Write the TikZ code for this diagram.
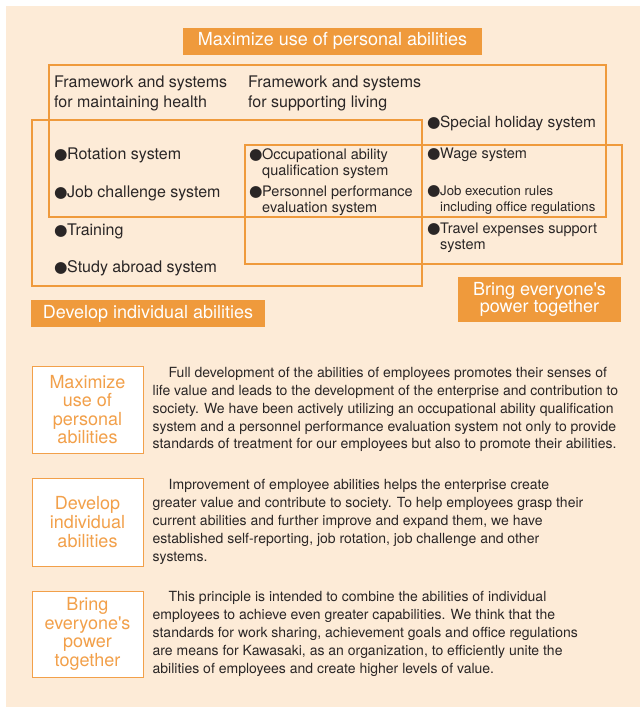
\documentclass[tikz,border=0pt]{standalone}
\usepackage{fontspec}
\setmainfont{TeX Gyre Heros}
\newfontfamily\dotfont{DejaVu Sans}
\usetikzlibrary{positioning}
\definecolor{bgbeige}{HTML}{FDEBD7}
\definecolor{tagorange}{HTML}{EF9A3C}
\definecolor{wordorange}{HTML}{F2A04A}
\definecolor{inkgray}{HTML}{2A2626}
\newcommand{\dotmark}{\llap{{\dotfont\fontsize{15.5}{15.5}\selectfont ●}\hspace{-0.5pt}}}
\newcommand{\apos}{\textquotesingle}

\begin{document}
\begin{tikzpicture}[x=1pt,y=-1pt,
    frame/.style={draw=tagorange,line width=1.4pt},
    tagbox/.style={fill=tagorange,text=white,inner sep=0pt,align=center,
        font=\fontsize{18}{17.7}\selectfont},
    head/.style={anchor=base west,inner sep=0pt,align=left,text=inkgray,
        font=\fontsize{16}{20}\selectfont},
    item/.style={head},
    smallitem/.style={item,font=\fontsize{14.5}{16}\selectfont},
    sidebox/.style={draw=wordorange,fill=white,line width=0.9pt,minimum width=111pt,
        text=wordorange,align=center,font=\fontsize{18}{18.6}\selectfont},
    bodytext/.style={anchor=west,inner sep=0pt,align=left,text=inkgray,
        font=\fontsize{14}{17.9}\selectfont}]
    \useasboundingbox (0,0) rectangle (640,707);
    \fill[bgbeige] (6,6) rectangle (640,707);

    % the three overlapping frames
    \draw[frame] (49,65) rectangle (606,217);
    \draw[frame] (32,120) rectangle (422,286);
    \draw[frame] (245,145) rectangle (622,264);

    \node[tagbox,minimum width=299pt,minimum height=27pt] (maxtag) at (332.5,41) {Maximize use of personal abilities};
    \node[tagbox,minimum width=234pt,minimum height=27pt] (devtag) at (148,313.5) {Develop individual abilities};
    \node[tagbox,minimum width=163pt,minimum height=45pt] (bringtag) at (539.5,299.5) {Bring everyone\apos s\\power together};

    % base of a two line node is its last line
    \node[head] (healthhead) at (54,107) {Framework and systems\\for maintaining health};
    \node[head] (livinghead) at (248,107) {Framework and systems\\for supporting living};

    \node[item] (rotation) at (67,159) {\dotmark Rotation system};
    \node[item] (challenge) at (67,197) {\dotmark Job challenge system};
    \node[item] (training) at (67,235) {\dotmark Training};
    \node[item] (abroad) at (67,272) {\dotmark Study abroad system};

    \node[smallitem] (occupation) at (262,175.5) {\dotmark Occupational ability\\qualification system};
    \node[smallitem] (personnel) at (262,212) {\dotmark Personnel performance\\evaluation system};

    \node[smallitem,font=\fontsize{15.4}{16}\selectfont] (holiday) at (440,127) {\dotmark Special holiday system};
    \node[smallitem] (wage) at (440,158) {\dotmark Wage system};
    \node[smallitem,font=\fontsize{13.2}{16}\selectfont] (jobrules) at (440,211) {\dotmark Job execution rules\\including office regulations};
    \node[smallitem] (travel) at (440,249) {\dotmark Travel expenses support\\system};

    % explanations
    \node[sidebox,minimum height=87pt] (maxside) at (87.5,409.5) {Maximize\\use of\\personal\\abilities};
    \node[sidebox,minimum height=88pt] (devside) at (87.5,522) {Develop\\individual\\abilities};
    \node[sidebox,minimum height=86pt] (bringside) at (87.5,634) {Bring\\everyone\apos s\\power\\together};

    \node[bodytext,right=9pt of maxside] (maxtext) {\hspace*{16pt}Full development of the abilities of employees promotes their senses of\\
        life value and leads to the development of the enterprise and contribution to\\
        society. We have been actively utilizing an occupational ability qualification\\
        system and a personnel performance evaluation system not only to provide\\
        standards of treatment for our employees but also to promote their abilities.};
    \node[bodytext,right=9pt of devside] (devtext) {\hspace*{16pt}Improvement of employee abilities helps the enterprise create\\
        greater value and contribute to society. To help employees grasp their\\
        current abilities and further improve and expand them, we have\\
        established self-reporting, job rotation, job challenge and other\\
        systems.};
    \node[bodytext,right=9pt of bringside] (bringtext) {\hspace*{16pt}This principle is intended to combine the abilities of individual\\
        employees to achieve even greater capabilities. We think that the\\
        standards for work sharing, achievement goals and office regulations\\
        are means for Kawasaki, as an organization, to efficiently unite the\\
        abilities of employees and create higher levels of value.};
\end{tikzpicture}
\end{document}
